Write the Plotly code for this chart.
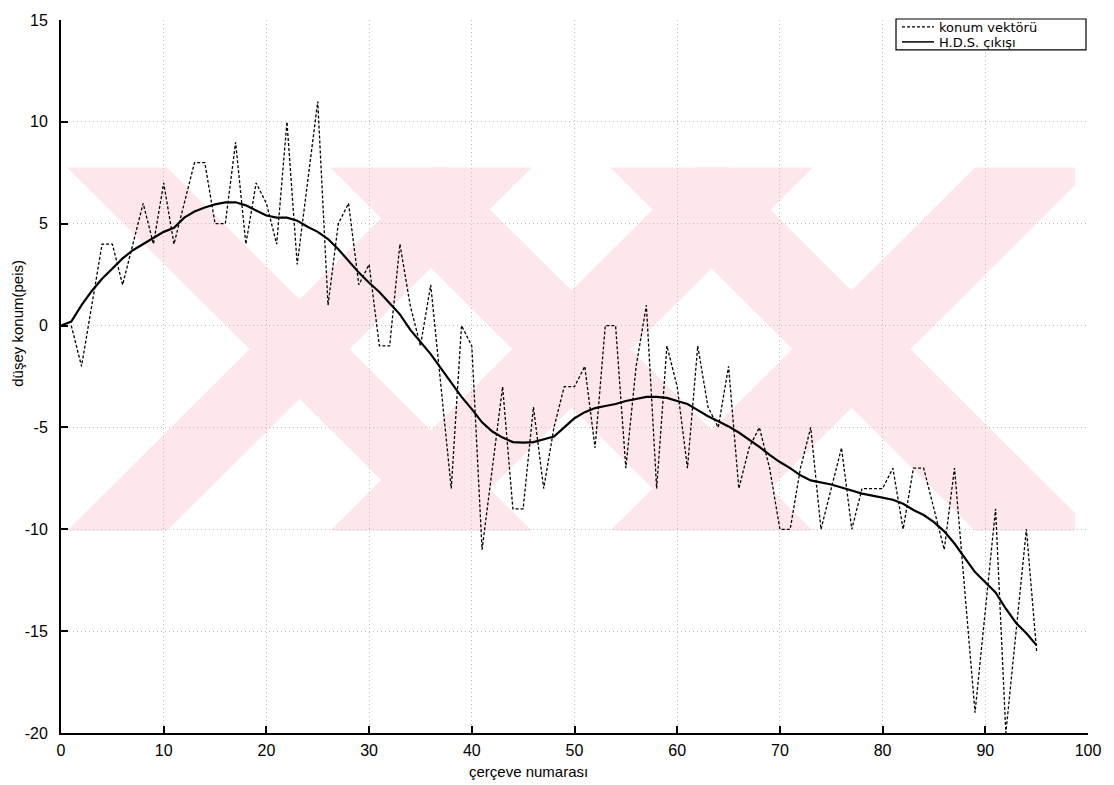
import plotly.graph_objects as go

# frame numbers and raw vertical position (pixels) per frame
frames = list(range(1, 96))
konum_vektoru = [
    0, -2, 1, 4, 4, 2, 4, 6, 4, 7,
    4, 6, 8, 8, 5, 5, 9, 4, 7, 6,
    4, 10, 3, 7, 11, 1, 5, 6, 2, 3,
    -1, -1, 4, 1, -1, 2, -3, -8, 0, -1,
    -11, -7, -3, -9, -9, -4, -8, -5, -3, -3,
    -2, -6, 0, 0, -7, -2, 1, -8, -1, -3,
    -7, -1, -4, -5, -2, -8, -6, -5, -7, -10,
    -10, -7, -5, -10, -8, -6, -10, -8, -8, -8,
    -7, -10, -7, -7, -9, -11, -7, -13, -19, -14,
    -9, -20, -15, -10, -16,
]

# filter output (H.D.S.) per frame, starting at frame 0
hds_frames = list(range(0, 96))
hds_cikisi = [
    0.0, 0.2, 1.0, 1.7, 2.3, 2.8, 3.3, 3.7, 4.0, 4.3,
    4.6, 4.8, 5.3, 5.6, 5.8, 5.95, 6.05, 6.05, 5.9, 5.65,
    5.4, 5.3, 5.3, 5.15, 4.85, 4.6, 4.25, 3.75, 3.15, 2.6,
    2.1, 1.65, 1.1, 0.55, -0.2, -0.8, -1.4, -2.1, -2.8, -3.5,
    -4.1, -4.75, -5.2, -5.5, -5.72, -5.75, -5.72, -5.6, -5.45, -5.0,
    -4.55, -4.25, -4.05, -3.95, -3.85, -3.7, -3.6, -3.5, -3.5, -3.55,
    -3.7, -3.85, -4.15, -4.45, -4.7, -4.95, -5.25, -5.6, -5.95, -6.35,
    -6.7, -7.0, -7.35, -7.6, -7.7, -7.8, -7.95, -8.1, -8.25, -8.35,
    -8.45, -8.55, -8.75, -9.05, -9.3, -9.65, -10.1, -10.7, -11.4, -12.1,
    -12.6, -13.1, -13.9, -14.6, -15.1, -15.7,
]

series_names = ["konum vektörü", "H.D.S. çıkışı"]
x_title = "çerçeve numarası"
y_title = "düşey konum(peis)"

x_ticks = [0, 10, 20, 30, 40, 50, 60, 70, 80, 90, 100]
y_ticks = [15, 10, 5, 0, -5, -10, -15, -20]
y_tick_text = ["15", "10", "5", "0", "-5", "-10", "-15", "-20"]

W, H = 1114, 785
ML, MR, MT, MB = 61, 26, 17, 52
X_RANGE = (0, 100)
Y_RANGE = (-20, 15)
FONT = "Liberation Sans, Arial, sans-serif"
LEGEND_FONT = "DejaVu Sans, Liberation Sans, sans-serif"


def px_to_data(px, py):
    pw = W - ML - MR
    ph = H - MT - MB
    x = X_RANGE[0] + (px - ML) / pw * (X_RANGE[1] - X_RANGE[0])
    y = Y_RANGE[1] - (py - MT) / ph * (Y_RANGE[1] - Y_RANGE[0])
    return x, y


def px_to_paper(px, py):
    pw = W - ML - MR
    ph = H - MT - MB
    return (px - ML) / pw, 1 - (py - MT) / ph


def clip_poly(poly, x0, x1, y0, y1):
    def clip(pts, inside, inter):
        out = []
        n = len(pts)
        for i in range(n):
            cur, prev = pts[i], pts[i - 1]
            if inside(cur):
                if not inside(prev):
                    out.append(inter(prev, cur))
                out.append(cur)
            elif inside(prev):
                out.append(inter(prev, cur))
        return out

    def ix(xc):
        return lambda p, q: (xc, p[1] + (q[1] - p[1]) * (xc - p[0]) / (q[0] - p[0]))

    def iy(yc):
        return lambda p, q: (p[0] + (q[0] - p[0]) * (yc - p[1]) / (q[1] - p[1]), yc)

    pts = poly
    pts = clip(pts, lambda p: p[0] >= x0, ix(x0))
    if pts:
        pts = clip(pts, lambda p: p[0] <= x1, ix(x1))
    if pts:
        pts = clip(pts, lambda p: p[1] >= y0, iy(y0))
    if pts:
        pts = clip(pts, lambda p: p[1] <= y1, iy(y1))
    return pts


# background emblem: overlapping pink crosses built from diagonal bands (pixel space)
BOX = (65, 1075, 165, 530)
band_h = BOX[3] - BOX[2]
down_bands = [(67, 100), (330, 118), (610, 118)]   # "\" bands: start x at top, width
up_bands = [(67, 100), (330, 118), (610, 118)]     # "/" bands: start x at bottom, width

polys = []
for a, w in down_bands:
    polys.append([(a, BOX[2]), (a + w, BOX[2]), (a + w + band_h, BOX[3]), (a + band_h, BOX[3])])
for a, w in up_bands:
    polys.append([(a, BOX[3]), (a + w, BOX[3]), (a + w + band_h, BOX[2]), (a + band_h, BOX[2])])

shapes = []
for poly in polys:
    pts = clip_poly(poly, *BOX)
    if len(pts) < 3:
        continue
    d = []
    for i, (px, py) in enumerate(pts):
        x, y = px_to_data(px, py)
        d.append(("M" if i == 0 else "L") + f"{x:.3f},{y:.3f}")
    shapes.append(dict(type="path", path=" ".join(d) + " Z", xref="x", yref="y",
                       fillcolor="rgb(253,231,236)", line=dict(width=0), layer="below"))

# hand-drawn legend box with line samples
lx0, ly0 = px_to_paper(896, 16)
lx1, ly1 = px_to_paper(1086, 47)
shapes.append(dict(type="rect", xref="paper", yref="paper", x0=lx0, x1=lx1, y0=ly1, y1=ly0,
                   line=dict(color="black", width=1.2), fillcolor="white", layer="above"))
sx0, sy_a = px_to_paper(902, 24)
sx1, sy_b = px_to_paper(934, 39)
shapes.append(dict(type="line", xref="paper", yref="paper", x0=sx0, x1=sx1, y0=sy_a, y1=sy_a,
                   line=dict(color="black", width=1.2, dash="3px,2px"), layer="above"))
shapes.append(dict(type="line", xref="paper", yref="paper", x0=sx0, x1=sx1, y0=sy_b, y1=sy_b,
                   line=dict(color="black", width=1.5), layer="above"))

tx, _ = px_to_paper(938, 0)
legend_font = dict(family=LEGEND_FONT, size=13, color="black")
annotations = [
    dict(text=series_names[0], xref="paper", yref="paper", x=tx, y=sy_a, xanchor="left",
         yanchor="middle", showarrow=False, font=legend_font, height=14, borderpad=0),
    dict(text=series_names[1], xref="paper", yref="paper", x=tx, y=sy_b, xanchor="left",
         yanchor="middle", showarrow=False, font=legend_font, height=14, borderpad=0),
]
ax_x, ax_y = px_to_paper(528, 772)
annotations.append(dict(text=x_title, xref="paper", yref="paper", x=ax_x, y=ax_y,
                        xanchor="center", yanchor="middle", showarrow=False,
                        font=dict(family=FONT, size=15, color="black")))
ay_x, ay_y = px_to_paper(18, 322)
annotations.append(dict(text=y_title, xref="paper", yref="paper", x=ay_x, y=ay_y,
                        xanchor="center", yanchor="middle", showarrow=False, textangle=-90,
                        font=dict(family=FONT, size=15, color="black")))

fig = go.Figure()
fig.add_trace(go.Scatter(
    x=frames, y=konum_vektoru, mode="lines", name=series_names[0],
    line=dict(color="black", width=1.3, dash="3px,2px"),
))
fig.add_trace(go.Scatter(
    x=hds_frames, y=hds_cikisi, mode="lines", name=series_names[1],
    line=dict(color="black", width=2.2),
))

axis_font = dict(family=FONT, size=16, color="black")
fig.update_layout(
    width=W, height=H,
    margin=dict(l=ML, r=MR, t=MT, b=MB),
    paper_bgcolor="white", plot_bgcolor="white",
    shapes=shapes,
    annotations=annotations,
    showlegend=False,
    xaxis=dict(
        range=list(X_RANGE), tickvals=x_ticks, ticks="inside", ticklen=7, tickwidth=1.5,
        tickcolor="black", showline=True, linecolor="black", linewidth=2,
        showgrid=True, gridcolor="#bdbdbd", griddash="1px,3px", gridwidth=1,
        zeroline=False, tickfont=axis_font, ticklabelstandoff=2,
    ),
    yaxis=dict(
        range=list(Y_RANGE), tickvals=y_ticks, ticktext=y_tick_text, ticks="inside", ticklen=7,
        tickwidth=1.5, tickcolor="black", showline=True, linecolor="black", linewidth=2,
        showgrid=True, gridcolor="#bdbdbd", griddash="1px,3px", gridwidth=1,
        zeroline=False, tickfont=axis_font, ticklabelstandoff=8,
    ),
)

fig.write_html("out.html")
